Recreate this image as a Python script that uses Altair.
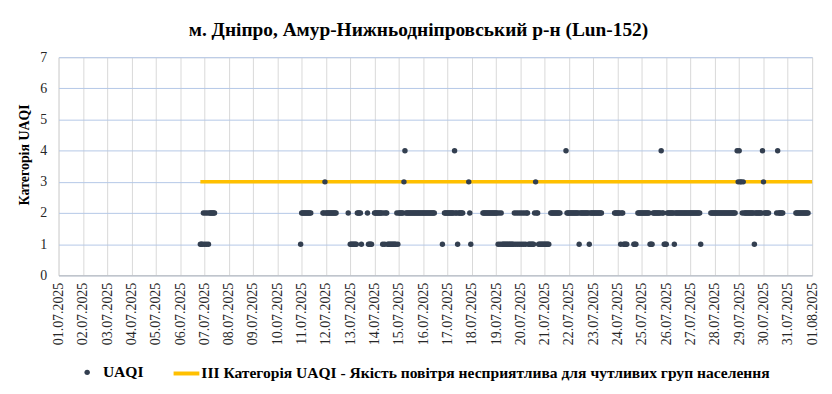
import altair as alt
import pandas as pd
from datetime import datetime

# ---------------- data ----------------
TITLE = "м. Дніпро, Амур-Нижньодніпровський р-н (Lun-152)"
Y_TITLE = "Категорія UAQI"
SERIES_POINTS = "UAQI"
SERIES_LINE = "III Категорія UAQI - Якість повітря несприятлива для чутливих груп населення"

# hourly UAQI category, one character per hour (00..23), "." = no reading
DAYS = [
    "2025-07-06", "2025-07-07", "2025-07-10", "2025-07-11", "2025-07-12",
    "2025-07-13", "2025-07-14", "2025-07-15", "2025-07-16", "2025-07-17",
    "2025-07-18", "2025-07-19", "2025-07-20", "2025-07-21", "2025-07-22",
    "2025-07-23", "2025-07-24", "2025-07-25", "2025-07-26", "2025-07-27",
    "2025-07-28", "2025-07-29", "2025-07-30", "2025-07-31",
]
HOURLY = [
    "....................1112",
    "12121222222.............",
    ".......................1",
    "2222222222...........223",
    "22222222222...........2.",
    "111111122221.....21111..",
    "222222221212211111111121",
    "222223422222222222222222",
    "222222222222.......1.222",
    "2222222422122222.....321",
    "...........2222222222222",
    "221212111111111111212121",
    "212121221111112322111111",
    "11111.2222222222.....422",
    "222222222212222222221222",
    "222222222............222",
    "2221221111......111.2222",
    "222222221112222222242211",
    "122222221222222222222222",
    "22222222221.........2222",
    "222222222222222222222.43",
    "433232222222222122222224",
    "322222.......2422222....",
    "........2222222222222...",
]

LINE_TIMES = ["2025-07-06T20:00:00", "2025-08-01T00:00:00"]
LINE_VALUES = [3, 3]

TICK_DATES = [f"2025-07-{d:02d}" for d in range(1, 32)] + ["2025-08-01"]
Y_TICKS = [0, 1, 2, 3, 4, 5, 6, 7]

# ---------------- build tables ----------------
rows = []
for day, s in zip(DAYS, HOURLY):
    assert len(s) == 24
    for h, ch in enumerate(s):
        if ch != ".":
            rows.append({"t": f"{day}T{h:02d}:00:00", "v": int(ch), "series": SERIES_POINTS})
points = pd.DataFrame(rows)
line = pd.DataFrame({"t": LINE_TIMES, "v": LINE_VALUES, "series": [SERIES_LINE] * len(LINE_TIMES)})


def dt(s):
    d = datetime.strptime(s, "%Y-%m-%d")
    return alt.DateTime(year=d.year, month=d.month, date=d.day)


FONT = "Liberation Serif"
DOT = "#333F50"
ORANGE = "#FFC000"

x_enc = alt.X(
    "t:T",
    scale=alt.Scale(domain=[dt(TICK_DATES[0]), dt(TICK_DATES[-1])], nice=False),
    axis=alt.Axis(
        title=None,
        values=[dt(s) for s in TICK_DATES],
        format="%d.%m.%Y",
        labelAngle=270,
        labelFont=FONT,
        labelFontSize=14,
        labelColor="#262626",
        labelPadding=7,
        ticks=False,
        domainColor="#BFBFBF",
        domainWidth=1,
        gridColor="#D9D9D9",
        gridWidth=1,
        labelOverlap=False,
    ),
)
y_enc = alt.Y(
    "v:Q",
    scale=alt.Scale(domain=[0, 7], nice=False),
    axis=alt.Axis(
        title=Y_TITLE,
        values=Y_TICKS,
        labelFont=FONT,
        labelFontSize=14,
        labelColor="#262626",
        labelPadding=12,
        labelOverlap=False,
        ticks=False,
        domain=False,
        gridColor="#B4C7E7",
        gridWidth=1,
        titleFont=FONT,
        titleFontSize=14,
        titleFontWeight="bold",
        titleColor="#000000",
        titlePadding=8,
        titleY=98,
    ),
)

pts = alt.Chart(points).mark_circle(size=30, opacity=1).encode(
    x=x_enc,
    y=y_enc,
    fill=alt.Fill(
        "series:N",
        scale=alt.Scale(domain=[SERIES_POINTS], range=[DOT]),
        legend=alt.Legend(
            title=None, orient="none", legendX=21, legendY=310,
            symbolType="circle", symbolSize=30, symbolStrokeWidth=0,
            labelFont=FONT, labelFontSize=15.7, labelFontWeight="bold",
            labelColor="#000000", labelOffset=8, labelLimit=800,
        ),
    ),
)

ln = alt.Chart(line).mark_line(strokeWidth=3.5).encode(
    x=x_enc,
    y=y_enc,
    stroke=alt.Stroke(
        "series:N",
        scale=alt.Scale(domain=[SERIES_LINE], range=[ORANGE]),
        legend=alt.Legend(
            title=None, orient="none", legendX=114, legendY=304,
            symbolType="stroke", symbolSize=676, symbolStrokeWidth=4,
            labelFont=FONT, labelFontSize=15.7, labelFontWeight="bold",
            labelColor="#000000", labelOffset=0, labelLimit=800,
        ),
    ),
)

chart = (
    alt.layer(ln, pts)
    .properties(
        width=760,
        height=220,
        padding={"left": 10, "top": 10, "right": 5, "bottom": 5},
        title=alt.TitleParams(
            TITLE, font=FONT, fontSize=19.5, fontWeight="bold", color="#000000",
            anchor="middle", offset=10, dx=-17,
        ),
    )
    .configure_view(stroke="transparent")
    .configure(background="white")
)

chart.save("out.html", embed_options={"renderer": "svg", "actions": False})
